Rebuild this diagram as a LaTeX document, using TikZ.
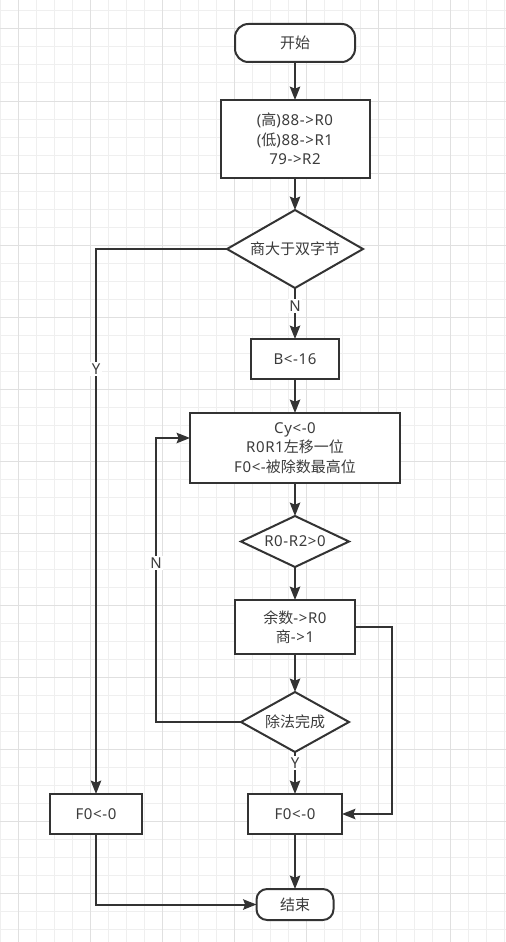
\documentclass[tikz,border=0pt]{standalone}
\usepackage{fontspec}
\setmainfont[LetterSpace=4.0]{Noto Sans}
\newfontfamily\cjk{Noto Sans CJK SC}
\usepackage{tikz}
\usetikzlibrary{shapes.geometric,arrows.meta,positioning}
\definecolor{linegray}{HTML}{333333}
\definecolor{textgray}{HTML}{3C3C3C}
\definecolor{gridminor}{HTML}{EFEFEF}
\definecolor{gridmajor}{HTML}{E0E0E0}
\newcommand{\flowfont}{\fontsize{11.25pt}{14.6pt}\selectfont}

\begin{document}
\begin{tikzpicture}[node distance=24pt, >={Stealth[length=10pt,width=7.75pt,inset=1.5pt]},
    term/.style={rectangle, rounded corners=10pt, draw=linegray, line width=1.5pt, outer sep=0pt, fill=white, text=textgray, minimum width=90pt, minimum height=28.5pt, inner sep=2pt, font=\flowfont},
    proc/.style={rectangle, draw=linegray, line width=1.5pt, outer sep=0pt, fill=white, text=textgray, align=center, inner sep=2pt, font=\flowfont},
    decide/.style={diamond, aspect=1.8, draw=linegray, line width=1.5pt, outer sep=0pt, fill=white, text=textgray, inner sep=0pt, font=\flowfont},
    lbl/.style={fill=white, text=textgray, inner sep=1pt, font=\flowfont},
    flow/.style={->, draw=linegray, line width=1.5pt}]

    % background grid
    \useasboundingbox (0,0) rectangle (379.5pt,-706.5pt);
    \fill[white] (0,0) rectangle (379.5pt,-706.5pt);
    \foreach \k in {0,...,28} \draw[gridminor, line width=0.75pt] (\k*13.5pt,0) -- (\k*13.5pt,-706.5pt);
    \foreach \k in {0,...,51} \draw[gridminor, line width=0.75pt] (0,-8.25pt-\k*13.5pt) -- (379.5pt,-8.25pt-\k*13.5pt);
    \foreach \k in {0,...,6} \draw[gridmajor, line width=0.75pt] (13.5pt+\k*54pt,0) -- (13.5pt+\k*54pt,-706.5pt);
    \foreach \k in {0,...,12} \draw[gridmajor, line width=0.75pt] (0,-21.75pt-\k*54pt) -- (379.5pt,-21.75pt-\k*54pt);

    \node [term] (start) at (221.25pt,-32.25pt) {\cjk 开始};
    \node [proc, minimum width=111.75pt, minimum height=58.5pt, below=28.5pt of start] (init) {({\cjk 高})88->R0\\({\cjk 低})88->R1\\79->R2};
    \node [decide, minimum width=102pt, minimum height=58.5pt, below=24pt of init] (quot) {\cjk 商大于双字节};
    \node [proc, minimum width=66pt, minimum height=30pt, below=38.25pt of quot] (cnt) {B<-16};
    \node [proc, minimum width=157.5pt, minimum height=52.5pt, below=25.5pt of cnt] (shift) {Cy<-0\\R0R1{\cjk 左移一位}\\F0<-{\cjk 被除数最高位}};
    \node [decide, minimum width=81pt, minimum height=38.25pt, below=24.75pt of shift] (cmp) {R0-R2>0};
    \node [proc, minimum width=90pt, minimum height=40.5pt, below=24.75pt of cmp] (sub) {{\cjk 余数}->R0\\{\cjk 商}->1};
    \node [decide, minimum width=81pt, minimum height=45pt, below=28.5pt of sub] (done) {\cjk 除法完成};
    \node [proc, minimum width=70.5pt, minimum height=30pt, below=31.5pt of done] (clrr) {F0<-0};
    \node [proc, minimum width=69pt, minimum height=30pt, left=79.5pt of clrr] (clrl) {F0<-0};
    \node [term, rounded corners=8pt, minimum width=57.75pt, minimum height=23.25pt, below=41.25pt of clrr] (stop) {\cjk 结束};

    \coordinate (nloop) at ([xshift=-25.5pt,yshift=7.5pt]shift.west);
    \coordinate (rturn) at ([xshift=27.75pt]sub.east);

    \draw [flow] (start) -- (init);
    \draw [flow] (init) -- (quot);
    \draw [flow] (quot) -- node[lbl, pos=0.35] {N} (cnt);
    \draw [flow] (quot.west) -| node[lbl, pos=0.61] {Y} (clrl.north);
    \draw [flow] (cnt) -- (shift);
    \draw [flow] (shift) -- (cmp);
    \draw [flow] (cmp) -- (sub);
    \draw [flow] (sub) -- (done);
    \draw [flow] (done) -- node[lbl, pos=0.26] {Y} (clrr);
    \draw [flow] (done.west) -| node[lbl, pos=0.78] {N} (nloop) -- ([yshift=7.5pt]shift.west);
    \draw [flow] (sub.east) -- (rturn) |- (clrr.east);
    \draw [flow] (clrr) -- (stop);
    \draw [flow] (clrl.south) |- (stop.west);
\end{tikzpicture}
\end{document}
